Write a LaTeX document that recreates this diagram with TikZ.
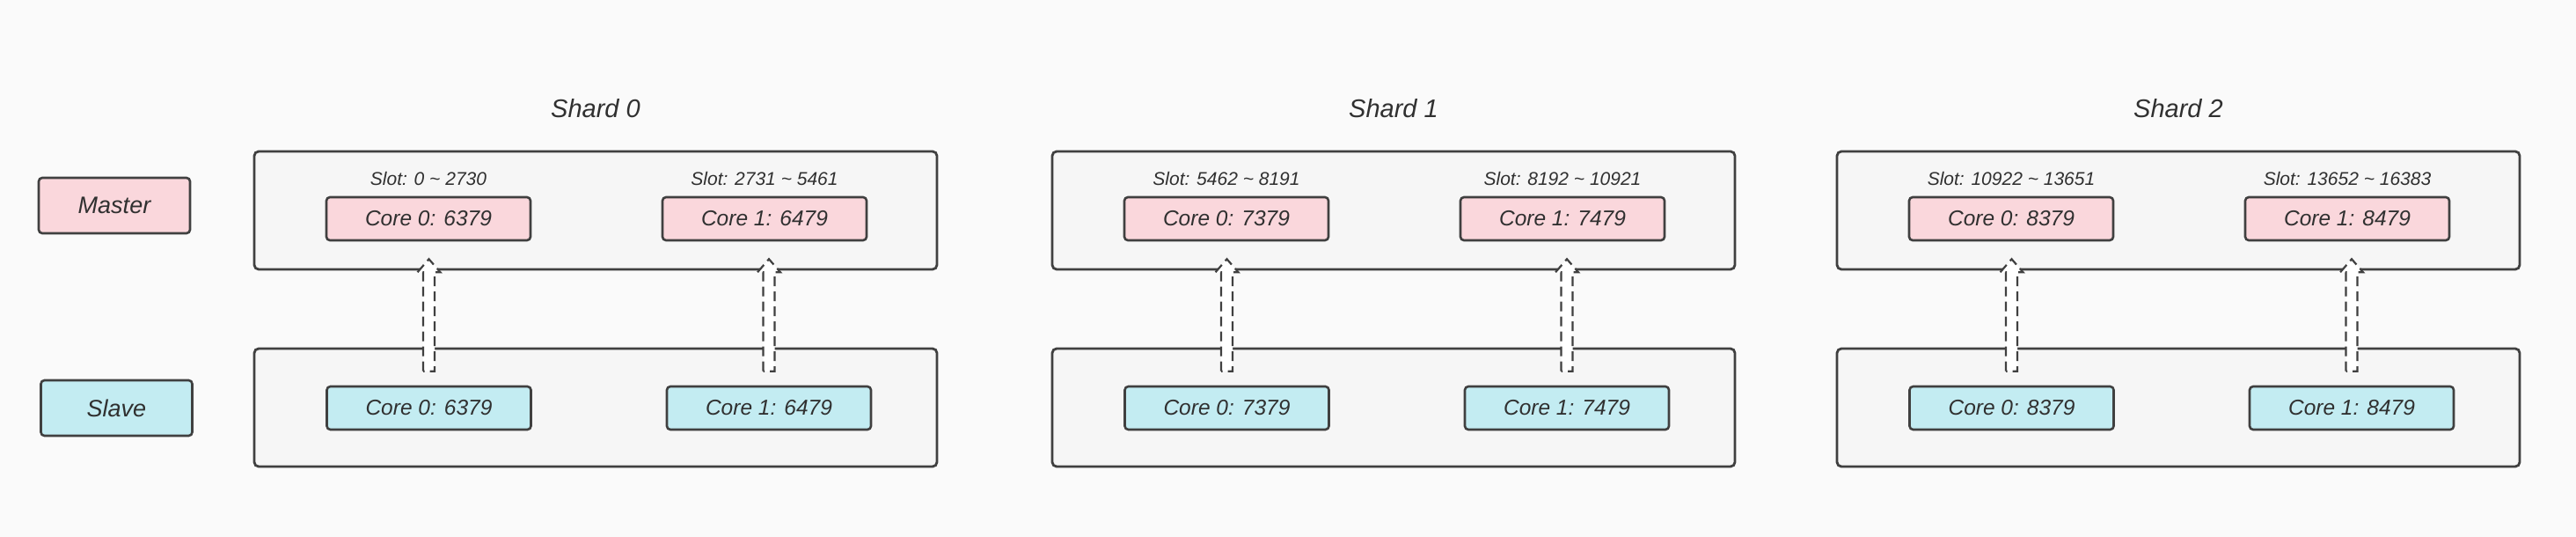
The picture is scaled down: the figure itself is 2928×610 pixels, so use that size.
\documentclass[tikz,border=0pt]{standalone}
\usepackage{fontspec}
\setmainfont{Liberation Sans}
\usetikzlibrary{positioning, calc}

\definecolor{bggray}{HTML}{FAFAFA}
\definecolor{boxgray}{HTML}{F6F6F6}
\definecolor{linegray}{HTML}{404040}
\definecolor{textgray}{HTML}{303030}
\definecolor{masterpink}{HTML}{FAD7DC}
\definecolor{slavecyan}{HTML}{C3ECF2}

\begin{document}
\begin{tikzpicture}[x=1pt,y=1pt,text=textgray,
  shard box/.style={draw=linegray,line width=2.8pt,fill=boxgray,rounded corners=5pt,
    minimum width=776pt,minimum height=134pt},
  core node/.style={draw=linegray,line width=2.6pt,rounded corners=4pt,
    minimum width=232pt,minimum height=49pt,font=\fontsize{24.5}{28}\selectfont\itshape},
  role node/.style={core node,minimum width=172pt,minimum height=63pt,
    font=\fontsize{27}{30}\selectfont\itshape},
  slot label/.style={inner sep=0pt,font=\fontsize{21}{24}\selectfont\itshape},
  shard title/.style={inner sep=0pt,font=\fontsize{29}{32}\selectfont\itshape},
  sync arrow/.style={draw=linegray,line width=2.2pt,dash pattern=on 11pt off 6pt,fill=white,
    to path={let \p1=(\tikztostart.north), \p2=(\tikztotarget.south) in
      (\x1-6.5pt,\y1+16pt) -- (\x1-6.5pt,\y2-35pt) -- (\x1-13pt,\y2-35pt) -- (\x1,\y2-20pt)
      -- (\x1+13pt,\y2-35pt) -- (\x1+6.5pt,\y2-35pt) -- (\x1+6.5pt,\y1+16pt) -- cycle}}]
  \fill[bggray] (0,0) rectangle (2928,610);

  \node[role node,fill=masterpink] (master) at (130,376.5) {Master};
  \node[role node,fill=slavecyan] (slave) at (132.5,146.5) {Slave};

  \foreach \i/\L/\pa/\pb/\ra/\rb/\rc/\rd in {0/289/6379/6479/0/2730/2731/5461,
      1/1196/7379/7479/5462/8191/8192/10921, 2/2088/8379/8479/10922/13651/13652/16383}{
    \node[shard box] (m\i) at (\L+388,371) {};
    \node[shard box] (s\i) at (\L+388,147) {};
    \node[shard title,above=37pt of m\i] (t\i) {Shard \i};
    \node[core node,fill=masterpink] (mc\i0) at (\L+198,361.5) {Core 0: \pa};
    \node[core node,fill=masterpink] (mc\i1) at (\L+580,361.5) {Core 1: \pb};
    \node[core node,fill=slavecyan] (sc\i0) at (\L+198.5,146.5) {Core 0: \pa};
    \node[core node,fill=slavecyan] (sc\i1) at (\L+585,146.5) {Core 1: \pb};
    \node[slot label,above=12pt of mc\i0] (sl\i0) {Slot: \ra\ \textasciitilde\ \rb};
    \node[slot label,above=12pt of mc\i1] (sl\i1) {Slot: \rc\ \textasciitilde\ \rd};
    \draw[sync arrow] (sc\i0) to (mc\i0);
    \draw[sync arrow] (sc\i1) to (mc\i1);
  }
\end{tikzpicture}
\end{document}
